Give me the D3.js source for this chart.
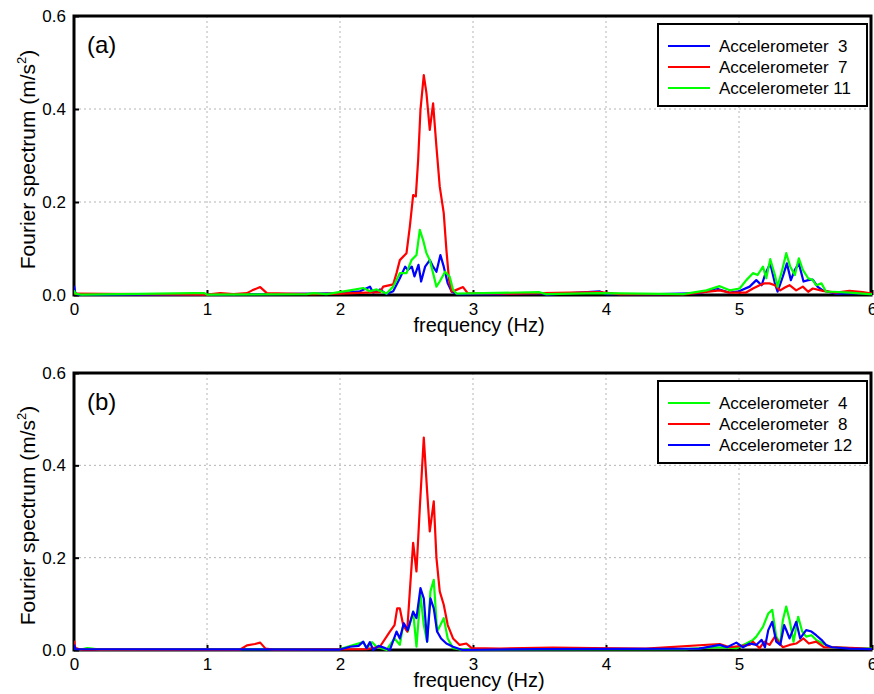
<!DOCTYPE html>
<html>
<head>
<meta charset="utf-8">
<script src="https://cdn.jsdelivr.net/npm/d3@7"></script>
<style>
  body { margin: 0; background: #fff; }
  text { font-family: Arial, "Liberation Sans", sans-serif; fill: #000; }
  .grid line { stroke: #b4b4b4; stroke-width: 1; stroke-dasharray: 2,3; }
</style>
</head>
<body>
<div class="chart"></div>
<script>
// x ticks and y ticks
var freqTicks = [0, 1, 2, 3, 4, 5, 6];
var ampTicks = [0.0, 0.2, 0.4, 0.6];

// panel (a): [frequency Hz, amplitude m/s2]
var accel3 = [[0,0.02],[0.01,0.004],[0.03,0.001],[0.9,0.001],[1.5,0.002],[1.8,0.003],[2.0,0.004],[2.15,0.008],[2.225,0.018],[2.25,0.005],[2.3,0.012],[2.35,0.002],[2.4,0.008],[2.45,0.036],[2.49,0.061],[2.51,0.054],[2.54,0.061],[2.56,0.04],[2.59,0.065],[2.61,0.029],[2.64,0.061],[2.675,0.075],[2.7,0.061],[2.725,0.05],[2.755,0.086],[2.78,0.061],[2.81,0.025],[2.84,0.007],[2.88,0.002],[3.2,0.002],[3.5,0.004],[3.55,0.001],[3.95,0.008],[4.0,0.002],[4.4,0.002],[4.705,0.004],[4.83,0.014],[4.93,0.005],[5.0,0.008],[5.08,0.018],[5.13,0.032],[5.17,0.021],[5.2,0.047],[5.235,0.068],[5.27,0.025],[5.29,0.007],[5.33,0.04],[5.36,0.068],[5.39,0.032],[5.42,0.054],[5.45,0.068],[5.485,0.029],[5.52,0.032],[5.555,0.033],[5.59,0.018],[5.63,0.01],[5.73,0.003],[5.88,0.004],[6,0.002]];
var accel7 = [[0,0.003],[1.0,0.001],[1.1,0.004],[1.2,0.002],[1.3,0.004],[1.34,0.01],[1.4,0.017],[1.45,0.004],[1.6,0.003],[1.8,0.002],[2.0,0.003],[2.2,0.005],[2.3,0.006],[2.325,0.018],[2.4,0.023],[2.425,0.047],[2.45,0.075],[2.5,0.09],[2.525,0.147],[2.55,0.215],[2.57,0.212],[2.5875,0.29],[2.605,0.398],[2.63,0.473],[2.65,0.434],[2.675,0.355],[2.7,0.412],[2.725,0.319],[2.75,0.233],[2.78,0.176],[2.8,0.097],[2.82,0.032],[2.84,0.007],[2.875,0.011],[2.925,0.017],[2.96,0.004],[3.3,0.003],[3.95,0.006],[4.1,0.002],[4.6,0.002],[4.855,0.01],[4.93,0.005],[5.05,0.005],[5.105,0.014],[5.155,0.021],[5.19,0.025],[5.23,0.025],[5.27,0.021],[5.31,0.01],[5.345,0.016],[5.38,0.021],[5.43,0.01],[5.48,0.018],[5.52,0.007],[5.555,0.014],[5.63,0.009],[5.73,0.005],[5.83,0.009],[5.93,0.006],[6,0.003]];
var accel11 = [[0,0.01],[0.01,0.003],[0.05,0.001],[0.9,0.004],[0.98,0.004],[1.0,0.001],[1.75,0.002],[1.8,0.004],[1.9,0.002],[2.075,0.01],[2.175,0.015],[2.225,0.008],[2.275,0.012],[2.35,0.003],[2.4,0.018],[2.45,0.047],[2.5,0.047],[2.5375,0.075],[2.575,0.086],[2.6,0.14],[2.625,0.118],[2.65,0.09],[2.675,0.075],[2.7,0.047],[2.725,0.018],[2.75,0.029],[2.79,0.05],[2.825,0.039],[2.85,0.011],[2.875,0.003],[3.5,0.006],[3.55,0.002],[3.95,0.004],[4.58,0.002],[4.755,0.01],[4.855,0.019],[4.93,0.01],[5.005,0.014],[5.055,0.032],[5.105,0.047],[5.14,0.043],[5.18,0.061],[5.205,0.036],[5.235,0.077],[5.27,0.043],[5.29,0.018],[5.325,0.054],[5.355,0.09],[5.385,0.061],[5.42,0.043],[5.45,0.079],[5.48,0.054],[5.52,0.036],[5.555,0.032],[5.58,0.021],[5.62,0.025],[5.655,0.007],[5.705,0.007],[5.83,0.005],[5.98,0.002],[6,0.002]];

// panel (b)
var accel4 = [[0,0.004],[0.05,0.001],[0.1,0.004],[0.2,0.001],[1.8,0.002],[2.0,0.002],[2.175,0.017],[2.2,0.004],[2.24,0.017],[2.275,0.007],[2.35,0.0],[2.41,0.025],[2.45,0.011],[2.475,0.054],[2.51,0.04],[2.55,0.083],[2.575,0.007],[2.605,0.12],[2.63,0.054],[2.655,0.018],[2.68,0.127],[2.705,0.152],[2.73,0.04],[2.755,0.054],[2.78,0.069],[2.81,0.025],[2.85,0.004],[2.9,0.001],[4.6,0.002],[4.83,0.006],[4.98,0.004],[5.055,0.014],[5.105,0.022],[5.13,0.029],[5.18,0.05],[5.22,0.079],[5.25,0.087],[5.28,0.029],[5.31,0.014],[5.33,0.065],[5.355,0.094],[5.38,0.065],[5.41,0.018],[5.445,0.072],[5.475,0.04],[5.505,0.029],[5.545,0.032],[5.58,0.022],[5.63,0.014],[5.69,0.006],[5.83,0.004],[6,0.003]];
var accel8 = [[0,0.02],[0.01,0.004],[0.05,0.001],[1.25,0.001],[1.3,0.01],[1.36,0.013],[1.4,0.016],[1.44,0.003],[1.5,0.001],[2.2,0.002],[2.3,0.007],[2.375,0.04],[2.41,0.054],[2.43,0.09],[2.45,0.09],[2.475,0.054],[2.505,0.04],[2.525,0.127],[2.55,0.232],[2.575,0.17],[2.6,0.308],[2.63,0.46],[2.655,0.344],[2.675,0.257],[2.705,0.322],[2.725,0.2],[2.75,0.127],[2.78,0.098],[2.81,0.054],[2.85,0.025],[2.9,0.011],[2.95,0.014],[2.99,0.004],[3.2,0.003],[3.6,0.005],[3.9,0.004],[4.3,0.003],[4.855,0.013],[4.93,0.006],[5.08,0.011],[5.105,0.018],[5.155,0.004],[5.19,0.018],[5.23,0.011],[5.27,0.029],[5.305,0.014],[5.33,0.006],[5.38,0.011],[5.43,0.014],[5.485,0.025],[5.525,0.014],[5.58,0.018],[5.64,0.006],[5.73,0.006],[5.88,0.004],[6,0.002]];
var accel12 = [[0,0.012],[0.01,0.002],[2.0,0.001],[2.075,0.007],[2.14,0.009],[2.175,0.018],[2.2,0.004],[2.225,0.017],[2.25,0.0],[2.29,0.009],[2.34,0.004],[2.375,0.0],[2.425,0.04],[2.45,0.025],[2.48,0.058],[2.51,0.043],[2.55,0.083],[2.575,0.069],[2.605,0.134],[2.63,0.112],[2.655,0.018],[2.68,0.112],[2.705,0.09],[2.73,0.04],[2.76,0.025],[2.8,0.014],[2.85,0.007],[2.92,0.0],[3.5,0.002],[4.7,0.003],[4.855,0.011],[4.91,0.006],[4.98,0.016],[5.03,0.006],[5.08,0.014],[5.13,0.011],[5.17,0.022],[5.195,0.006],[5.22,0.043],[5.25,0.061],[5.28,0.018],[5.31,0.011],[5.34,0.054],[5.36,0.04],[5.38,0.025],[5.43,0.061],[5.46,0.025],[5.505,0.043],[5.545,0.04],[5.58,0.032],[5.62,0.022],[5.655,0.011],[5.7,0.006],[5.83,0.003],[6,0.002]];

var labelsA = ["Accelerometer  3", "Accelerometer  7", "Accelerometer 11"];
var labelsB = ["Accelerometer  4", "Accelerometer  8", "Accelerometer 12"];

var svgWidth = 874;
var svgHeight = 694;

var svg = d3.select(".chart")
  .append("svg")
  .attr("width", svgWidth)
  .attr("height", svgHeight);

var xScale = d3.scaleLinear().domain([0, 6]).range([74, 872]);

function drawPanel(top, bottom, tag, series, labels, colors, id) {
  var yScale = d3.scaleLinear().domain([0, 0.6]).range([bottom, top]);
  var g = svg.append("g");

  // dotted grid
  var grid = g.append("g").attr("class", "grid");
  grid.selectAll(".vx")
    .data(freqTicks.slice(1, -1))
    .enter().append("line")
    .attr("x1", d => xScale(d)).attr("x2", d => xScale(d))
    .attr("y1", top).attr("y2", bottom);
  grid.selectAll(".hy")
    .data(ampTicks.slice(1, -1))
    .enter().append("line")
    .attr("x1", xScale(0)).attr("x2", xScale(6))
    .attr("y1", d => yScale(d)).attr("y2", d => yScale(d));

  // axes with inward ticks
  var xAxis = d3.axisBottom(xScale).tickValues(freqTicks).tickSize(-5).tickPadding(8)
    .tickFormat(d3.format("d"));
  var yAxis = d3.axisLeft(yScale).tickValues(ampTicks).tickSize(-5).tickPadding(8)
    .tickFormat(d3.format(".1f"));

  var gx = g.append("g").attr("transform", `translate(0, ${bottom})`).call(xAxis);
  var gy = g.append("g").attr("transform", `translate(${xScale(0)}, 0)`).call(yAxis);
  [gx, gy].forEach(function(a) {
    a.select(".domain").remove();
    a.selectAll(".tick line").attr("stroke", "#000").attr("stroke-width", 2);
    a.selectAll("text").attr("font-size", "17px").style("font-family", "Arial, 'Liberation Sans', sans-serif");
  });

  // clip
  g.append("clipPath").attr("id", id)
    .append("rect").attr("x", xScale(0)).attr("y", top - 2)
    .attr("width", xScale(6) - xScale(0)).attr("height", bottom - top + 4);

  var line = d3.line().x(d => xScale(d[0])).y(d => yScale(d[1]));

  // frame
  g.append("rect")
    .attr("x", xScale(0)).attr("y", top)
    .attr("width", xScale(6) - xScale(0) - 1).attr("height", bottom - top)
    .attr("fill", "none").attr("stroke", "#000").attr("stroke-width", 3);

  g.append("g").attr("clip-path", `url(#${id})`)
    .selectAll("path")
    .data(series)
    .enter().append("path")
    .attr("d", d => line(d))
    .attr("fill", "none")
    .attr("stroke", (d, i) => colors[i])
    .attr("stroke-width", 2.2)
    .attr("stroke-linejoin", "round");

  // panel tag
  g.append("text")
    .attr("x", 87).attr("y", top + 37)
    .attr("font-size", "24px")
    .text(tag);

  // legend
  var lx = 658, ly = top + 8;
  var legend = g.append("g");
  legend.append("rect")
    .attr("x", lx).attr("y", ly).attr("width", 209).attr("height", 82)
    .attr("fill", "#fff").attr("stroke", "#000").attr("stroke-width", 2);
  labels.forEach(function(lab, i) {
    var yy = ly + 22 + i * 21;
    legend.append("line")
      .attr("x1", lx + 10).attr("x2", lx + 52)
      .attr("y1", yy).attr("y2", yy)
      .attr("stroke", colors[i]).attr("stroke-width", 2);
    legend.append("text")
      .attr("x", lx + 61).attr("y", yy + 6)
      .attr("font-size", "17px")
      .style("white-space", "pre")
      .text(lab);
  });

  // axis labels
  g.append("text")
    .attr("x", (xScale(0) + xScale(6)) / 2 + 6).attr("y", bottom + 37)
    .attr("text-anchor", "middle")
    .attr("font-size", "20px")
    .text("frequency (Hz)");

  var yl = g.append("text")
    .attr("transform", `translate(35, ${(top + bottom) / 2 + 4}) rotate(-90)`)
    .attr("text-anchor", "middle")
    .attr("font-size", "21px");
  yl.append("tspan").text("Fourier spectrum (m/s");
  yl.append("tspan").attr("font-size", "13px").attr("dy", -9).text("2");
  yl.append("tspan").attr("dy", 9).text(")");
}

drawPanel(16, 295, "(a)", [accel3, accel7, accel11], labelsA, ["#0000ff", "#ff0000", "#00ff00"], "clipA");
drawPanel(373, 650, "(b)", [accel4, accel8, accel12], labelsB, ["#00ff00", "#ff0000", "#0000ff"], "clipB");
</script>
</body>
</html>
